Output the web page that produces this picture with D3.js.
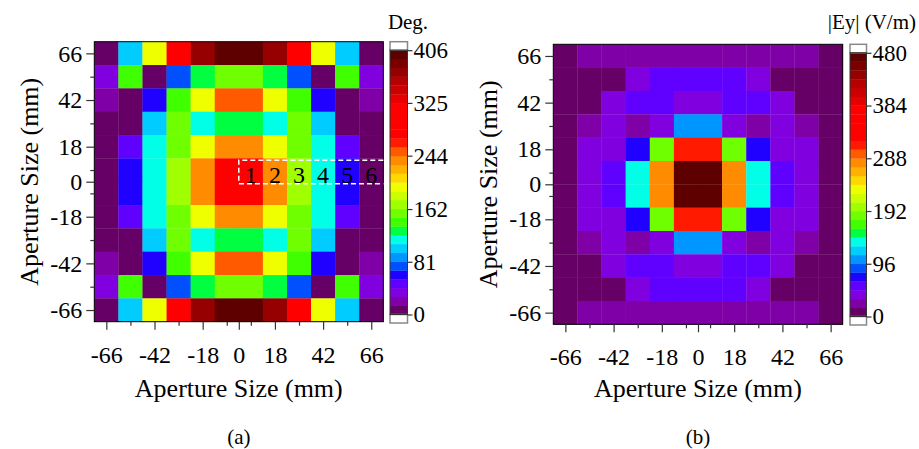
<!DOCTYPE html>
<html>
<head>
<meta charset="utf-8">
<script src="https://cdn.jsdelivr.net/npm/d3@7"></script>
<style>
  body { margin: 0; background: #fff; }
  svg text { font-family: "Liberation Serif", "Times New Roman", serif; fill: #000; }
</style>
</head>
<body>
<div id="chart"></div>
<script>
// cell centres (mm), same for both axes
const cellCenters = [-66, -54, -42, -30, -18, -6, 6, 18, 30, 42, 54, 66];
const majorTicks = [-66, -42, -18, 0, 18, 42, 66];
const minorTicks = [-54, -30, -6, 6, 30, 54];

// (a) phase, degrees, rows from y=66 down to y=-66
const phaseRows = [
  [6, 102, 197, 293, 372, 401, 401, 372, 293, 197, 102, 6],
  [35, 141, 8, 73, 129, 156, 156, 129, 73, 8, 141, 35],
  [21, 9, 60, 143, 195, 251, 251, 195, 143, 60, 9, 21],
  [4, 7, 100, 154, 114, 127, 127, 114, 154, 100, 7, 4],
  [5, 48, 116, 157, 198, 236, 236, 198, 157, 116, 48, 5],
  [3, 62, 117, 170, 238, 292, 292, 238, 170, 117, 62, 3],
  [3, 62, 117, 170, 238, 292, 292, 238, 170, 117, 62, 3],
  [5, 48, 116, 157, 198, 236, 236, 198, 157, 116, 48, 5],
  [4, 7, 100, 154, 114, 127, 127, 114, 154, 100, 7, 4],
  [21, 9, 60, 143, 195, 251, 251, 195, 143, 60, 9, 21],
  [35, 141, 8, 73, 129, 156, 156, 129, 73, 8, 141, 35],
  [6, 102, 197, 293, 372, 401, 401, 372, 293, 197, 102, 6]
];
const phaseTicks = [0, 81, 162, 244, 325, 406];

// (b) |Ey|, V/m
const fieldRows = [
  [10, 25, 27, 28, 29, 30, 30, 29, 28, 27, 25, 10],
  [8, 12, 15, 40, 55, 58, 58, 55, 40, 15, 12, 8],
  [6, 14, 38, 53, 57, 44, 44, 57, 53, 38, 14, 6],
  [9, 26, 42, 30, 45, 104, 104, 45, 30, 42, 26, 9],
  [11, 36, 41, 70, 183, 318, 318, 183, 70, 41, 36, 11],
  [12, 39, 56, 137, 280, 472, 472, 280, 137, 56, 39, 12],
  [12, 39, 56, 137, 280, 472, 472, 280, 137, 56, 39, 12],
  [11, 36, 41, 70, 183, 318, 318, 183, 70, 41, 36, 11],
  [9, 26, 42, 30, 45, 104, 104, 45, 30, 42, 26, 9],
  [6, 14, 38, 53, 57, 44, 44, 57, 53, 38, 14, 6],
  [8, 12, 15, 40, 55, 58, 58, 55, 40, 15, 12, 8],
  [10, 25, 27, 28, 29, 30, 30, 29, 28, 27, 25, 10]
];
const fieldTicks = [0, 96, 192, 288, 384, 480];

// colour levels, low to high
const levelColors = [
  "#660066", "#8000a8", "#8000e0", "#6000ff", "#2000ff", "#0050ff",
  "#0096ff", "#00ccff", "#00ffe6", "#00ff40", "#40ff00", "#70ff00",
  "#a0ff00", "#ccff00", "#f0ff00", "#ffd800", "#ffb000", "#ff8c00",
  "#ff5a00", "#ff1a00", "#ff0000", "#ff0000", "#ff0000", "#ff0000",
  "#e60000", "#cc0000", "#b40000", "#960000", "#7a0000", "#5f0000"
];

const labelNums = ["1", "2", "3", "4", "5", "6"];

const svg = d3.select("#chart").append("svg")
  .attr("width", 919).attr("height", 449);

function drawPanel(opt) {
  const g = svg.append("g");
  const x = d3.scaleLinear().domain([-72, 72]).range([opt.x0, opt.x1]);
  const y = d3.scaleLinear().domain([-72, 72]).range([opt.y1, opt.y0]);
  const color = d3.scaleQuantize().domain([0, opt.max]).range(levelColors);

  const cells = [];
  opt.rows.forEach((row, r) => row.forEach((v, c) => {
    cells.push({ cx: cellCenters[c], cy: cellCenters[11 - r], v: v });
  }));

  g.selectAll(".cell").data(cells).join("rect")
    .attr("class", "cell")
    .attr("x", d => x(d.cx - 6))
    .attr("y", d => y(d.cy + 6))
    .attr("width", d => x(d.cx + 6) - x(d.cx - 6) + 0.3)
    .attr("height", d => y(d.cy - 6) - y(d.cy + 6) + 0.3)
    .attr("fill", d => color(d.v));

  g.append("rect")
    .attr("x", opt.x0).attr("y", opt.y0)
    .attr("width", opt.x1 - opt.x0).attr("height", opt.y1 - opt.y0)
    .attr("fill", "none").attr("stroke", "#000").attr("stroke-width", 1);

  // axes
  const fmt = d => d;
  const xa = g.append("g").attr("transform", `translate(0,${opt.y1})`);
  xa.call(d3.axisBottom(x).tickValues(majorTicks).tickSize(8).tickPadding(16).tickFormat(fmt));
  const xm = g.append("g").attr("transform", `translate(0,${opt.y1})`);
  xm.call(d3.axisBottom(x).tickValues(minorTicks).tickSize(4).tickFormat(""));
  const ya = g.append("g").attr("transform", `translate(${opt.x0},0)`);
  ya.call(d3.axisLeft(y).tickValues(majorTicks).tickSize(8).tickPadding(4).tickFormat(fmt));
  const ym = g.append("g").attr("transform", `translate(${opt.x0},0)`);
  ym.call(d3.axisLeft(y).tickValues(minorTicks).tickSize(4).tickFormat(""));
  [xa, xm, ya, ym].forEach(a => {
    a.select(".domain").remove();
    a.selectAll("line").attr("stroke", "#333").attr("stroke-width", 1.2);
    a.selectAll("text").style("font-size", "24px")
      .style("font-family", "'Liberation Serif', 'Times New Roman', serif").attr("fill", "#000");
  });

  g.append("text")
    .attr("x", (opt.x0 + opt.x1) / 2).attr("y", 397)
    .attr("text-anchor", "middle").style("font-size", "26px")
    .text("Aperture Size (mm)");
  g.append("text")
    .attr("transform", `translate(${opt.x0 - 56},${(opt.y0 + opt.y1) / 2}) rotate(-90)`)
    .attr("text-anchor", "middle").style("font-size", "26px")
    .text("Aperture Size (mm)");
  g.append("text")
    .attr("x", (opt.x0 + opt.x1) / 2).attr("y", 444)
    .attr("text-anchor", "middle").style("font-size", "21px")
    .text(opt.tag);

  // colour bar
  const box = 8.5;
  const cb = opt.cb;
  const yc = d3.scaleLinear().domain([0, opt.max]).range([cb.y1 - box, cb.y0 + box]);
  const step = opt.max / levelColors.length;
  g.selectAll(".lvl").data(levelColors).join("rect")
    .attr("class", "lvl")
    .attr("x", cb.x).attr("width", cb.w)
    .attr("y", (d, i) => yc((i + 1) * step))
    .attr("height", (d, i) => yc(i * step) - yc((i + 1) * step) + 0.3)
    .attr("fill", d => d);
  [cb.y0, cb.y1 - box].forEach(yy => {
    g.append("rect").attr("x", cb.x).attr("y", yy).attr("width", cb.w).attr("height", box)
      .attr("fill", "#fff").attr("stroke", "#888").attr("stroke-width", 1.5);
  });
  g.append("rect").attr("x", cb.x).attr("y", cb.y0 + box).attr("width", cb.w)
    .attr("height", cb.y1 - cb.y0 - 2 * box)
    .attr("fill", "none").attr("stroke", "#333").attr("stroke-width", 1);
  const ca = g.append("g").attr("transform", `translate(${cb.x + cb.w},0)`)
    .call(d3.axisRight(yc).tickValues(opt.ticks).tickSize(5).tickPadding(1));
  ca.select(".domain").remove();
  ca.selectAll("line").attr("stroke", "#333").attr("stroke-width", 1.2);
  ca.selectAll("text").style("font-size", "23px")
    .style("font-family", "'Liberation Serif', 'Times New Roman', serif").attr("fill", "#000");
  g.append("text")
    .attr("x", cb.titleX).attr("y", 29)
    .attr("text-anchor", cb.anchor).style("font-size", "21px")
    .text(opt.title);

  return { g, x, y };
}

const a = drawPanel({
  rows: phaseRows, max: 406, ticks: phaseTicks, tag: "(a)", title: "Deg.",
  x0: 94.3, x1: 383.3, y0: 41.7, y1: 321.7,
  cb: { x: 390, w: 17.5, y0: 41.7, y1: 323, titleX: 408, anchor: "middle" }
});

drawPanel({
  rows: fieldRows, max: 480, ticks: fieldTicks, tag: "(b)", title: "|Ey| (V/m)",
  x0: 553.3, x1: 842.7, y0: 44.3, y1: 324.3,
  cb: { x: 850, w: 16.5, y0: 44.3, y1: 325, titleX: 916, anchor: "end" }
});

// numbered cells along the x axis in (a)
const boxTop = a.y(11), boxBot = a.y(-1);
a.g.append("path")
  .attr("d", `M${a.x(72)},${boxTop}H${a.x(0)}V${boxBot}H${a.x(72)}`)
  .attr("fill", "none").attr("stroke", "#fff").attr("stroke-width", 1.5)
  .attr("stroke-dasharray", "5,3");
a.g.selectAll(".num").data(labelNums).join("text")
  .attr("class", "num")
  .attr("x", (d, i) => a.x(cellCenters[6 + i]))
  .attr("y", a.y(-0.5))
  .attr("text-anchor", "middle").style("font-size", "24px")
  .text(d => d);
</script>
</body>
</html>
